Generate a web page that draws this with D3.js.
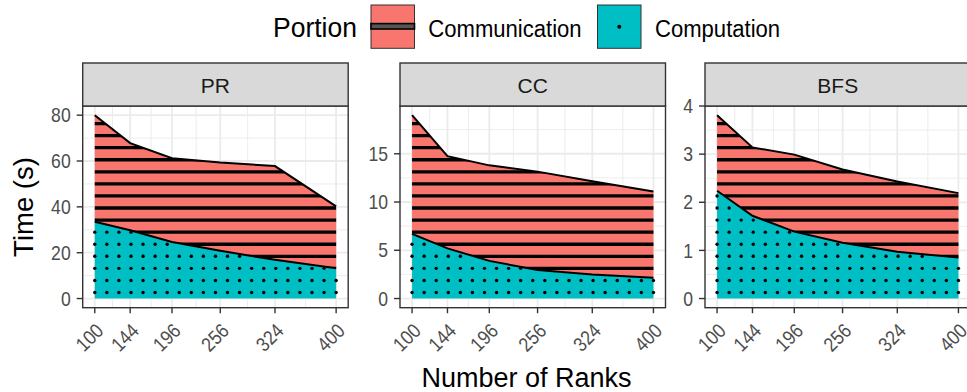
<!DOCTYPE html>
<html>
<head>
<meta charset="utf-8">
<script src="https://cdn.jsdelivr.net/npm/d3@7"></script>
<style>
  html, body { margin: 0; padding: 0; background: #fff; }
  svg { display: block; font-family: "Liberation Sans", Arial, Helvetica, sans-serif; }
</style>
</head>
<body>
<svg id="chart" width="967" height="392"></svg>
<script>
// ---- data ----
const ranks = [100, 144, 196, 256, 324, 400];
const xTicks = [100, 144, 196, 256, 324, 400];
const panels = ["PR", "CC", "BFS"];
const portions = ["Communication", "Computation"];

// seconds spent per portion, by number of ranks
const prComputation = [33.5, 29.8, 24.7, 20.8, 16.9, 13.2];
const prCommunication = [46.5, 38.0, 36.5, 38.5, 40.9, 27.0];
const ccComputation = [6.7, 5.2, 3.9, 2.95, 2.5, 2.15];
const ccCommunication = [12.3, 9.55, 9.9, 10.2, 9.65, 8.95];
const bfsComputation = [2.24, 1.72, 1.39, 1.16, 0.97, 0.85];
const bfsCommunication = [1.57, 1.42, 1.60, 1.52, 1.46, 1.34];

const prYTicks = [0, 20, 40, 60, 80];
const ccYTicks = [0, 5, 10, 15];
const bfsYTicks = [0, 1, 2, 3, 4];

// ---- layout ----
const colors = { Communication: "#F8766D", Computation: "#00BFC4" };
const panelLefts = [82.7, 400, 705];
const panelWidth = 265.5;
const stripTop = 63, stripBottom = 106, plotBottom = 307.7;
const tickFont = 20, tickSqueeze = 0.88;

const svg = d3.select("#chart");
const defs = svg.append("defs");

const series = [
  { name: panels[0], comp: prComputation, comm: prCommunication, ticks: prYTicks },
  { name: panels[1], comp: ccComputation, comm: ccCommunication, ticks: ccYTicks },
  { name: panels[2], comp: bfsComputation, comm: bfsCommunication, ticks: bfsYTicks }
];

series.forEach((s, i) => {
  const left = panelLefts[i], right = left + panelWidth;
  const rows = ranks.map((r, j) => ({ r, c: s.comp[j], t: s.comp[j] + s.comm[j] }));
  const maxT = d3.max(rows, d => d.t);

  const x = d3.scaleLinear().domain([100 - 15, 400 + 15]).range([left, right]);
  const y = d3.scaleLinear().domain([-maxT * 0.05, maxT * 1.05]).range([plotBottom, stripBottom]);

  const g = svg.append("g");

  // panel background and grid
  g.append("rect").attr("x", left).attr("y", stripBottom)
    .attr("width", panelWidth).attr("height", plotBottom - stripBottom).attr("fill", "#fff");

  const yt = s.ticks;
  const step = yt[1] - yt[0];
  const yMinor = yt.map(v => v - step / 2).concat([yt[yt.length - 1] + step / 2])
    .filter(v => y(v) <= plotBottom && y(v) >= stripBottom);
  const xMinor = d3.range(xTicks.length - 1).map(k => (xTicks[k] + xTicks[k + 1]) / 2);

  g.selectAll(".ymin").data(yMinor).join("line")
    .attr("x1", left).attr("x2", right).attr("y1", d => y(d)).attr("y2", d => y(d))
    .attr("stroke", "#EBEBEB").attr("stroke-width", 0.9);
  g.selectAll(".xmin").data(xMinor).join("line")
    .attr("x1", d => x(d)).attr("x2", d => x(d)).attr("y1", stripBottom).attr("y2", plotBottom)
    .attr("stroke", "#EBEBEB").attr("stroke-width", 0.9);
  g.selectAll(".ymaj").data(yt.filter(v => y(v) >= stripBottom)).join("line")
    .attr("x1", left).attr("x2", right).attr("y1", d => y(d)).attr("y2", d => y(d))
    .attr("stroke", "#EBEBEB").attr("stroke-width", 1.8);
  g.selectAll(".xmaj").data(xTicks).join("line")
    .attr("x1", d => x(d)).attr("x2", d => x(d)).attr("y1", stripBottom).attr("y2", plotBottom)
    .attr("stroke", "#EBEBEB").attr("stroke-width", 1.8);

  // stacked areas
  const compArea = d3.area().x(d => x(d.r)).y0(y(0)).y1(d => y(d.c));
  const commArea = d3.area().x(d => x(d.r)).y0(d => y(d.c)).y1(d => y(d.t));

  g.append("path").attr("d", compArea(rows)).attr("fill", colors.Computation);
  g.append("path").attr("d", commArea(rows)).attr("fill", colors.Communication);

  // pattern grid
  const spacing = (x(400) - x(100)) / 20;
  const rowYs = d3.range(0, 40).map(k => y(0) - spacing / 2 - k * spacing).filter(v => v > stripBottom);

  // stripes on communication, clipped to its area
  const clipId = "clip-comm-" + i;
  defs.append("clipPath").attr("id", clipId).append("path").attr("d", commArea(rows));
  g.append("g").attr("clip-path", `url(#${clipId})`)
    .selectAll("line").data(rowYs).join("line")
    .attr("x1", x(100) - 2).attr("x2", x(400) + 2)
    .attr("y1", d => d).attr("y2", d => d)
    .attr("stroke", "#000").attr("stroke-width", 3.3);

  // dots on computation
  const compTop = d3.scaleLinear().domain(ranks).range(s.comp);
  const cols = d3.range(0, 21).map(k => x(100) + k * spacing);
  const dots = [];
  cols.forEach(cx => {
    const topY = y(compTop(x.invert(cx)));
    rowYs.forEach(cy => { if (cy > topY + 1.5) dots.push([cx, cy]); });
  });
  g.append("g").selectAll("circle").data(dots).join("circle")
    .attr("cx", d => d[0]).attr("cy", d => d[1]).attr("r", 1.7).attr("fill", "#000");

  // outline lines
  const lineC = d3.line().x(d => x(d.r)).y(d => y(d.c));
  const lineT = d3.line().x(d => x(d.r)).y(d => y(d.t));
  g.append("path").attr("d", lineC(rows)).attr("fill", "none").attr("stroke", "#000").attr("stroke-width", 2);
  g.append("path").attr("d", lineT(rows)).attr("fill", "none").attr("stroke", "#000").attr("stroke-width", 2);

  // panel border
  g.append("rect").attr("x", left).attr("y", stripBottom)
    .attr("width", panelWidth).attr("height", plotBottom - stripBottom)
    .attr("fill", "none").attr("stroke", "#333333").attr("stroke-width", 1.4);

  // strip
  g.append("rect").attr("x", left).attr("y", stripTop)
    .attr("width", panelWidth).attr("height", stripBottom - stripTop)
    .attr("fill", "#D9D9D9").attr("stroke", "#333333").attr("stroke-width", 1.4);
  g.append("text").attr("x", left + panelWidth / 2).attr("y", 92.5)
    .attr("text-anchor", "middle").attr("font-size", 21).attr("fill", "#1A1A1A").text(s.name);

  // y axis
  const yAxis = g.append("g");
  const ytIn = yt.filter(v => y(v) >= stripBottom - 1);
  yAxis.selectAll("line").data(ytIn).join("line")
    .attr("x1", left - 6).attr("x2", left).attr("y1", d => y(d)).attr("y2", d => y(d))
    .attr("stroke", "#333333").attr("stroke-width", 1.4);
  yAxis.selectAll("text").data(ytIn).join("text")
    .attr("transform", d => `translate(${left - 12},${y(d) + 7.2}) scale(${tickSqueeze},1)`)
    .attr("text-anchor", "end").attr("font-size", tickFont).attr("fill", "#4D4D4D").text(d => d);

  // x axis
  const xAxis = g.append("g");
  xAxis.selectAll("line").data(xTicks).join("line")
    .attr("x1", d => x(d)).attr("x2", d => x(d)).attr("y1", plotBottom).attr("y2", plotBottom + 5.5)
    .attr("stroke", "#333333").attr("stroke-width", 1.4);
  xAxis.selectAll("text").data(xTicks).join("text")
    .attr("transform", d => `translate(${x(d) + 10},${332}) rotate(-45) scale(${tickSqueeze},1)`)
    .attr("text-anchor", "end").attr("font-size", tickFont).attr("fill", "#4D4D4D").text(d => d);
});

// axis titles
svg.append("text").attr("x", 526.5).attr("y", 387).attr("text-anchor", "middle")
  .attr("font-size", 27).attr("fill", "#000").text("Number of Ranks");
svg.append("text").attr("transform", "translate(33,207) rotate(-90)").attr("text-anchor", "middle")
  .attr("font-size", 27.5).attr("fill", "#000").text("Time (s)");

// legend
const legend = svg.append("g");
legend.append("text").attr("transform", "translate(273,36.7) scale(0.93,1)")
  .attr("font-size", 28.5).attr("fill", "#000").text("Portion");
const keyX = [371, 597.5];
const labelX = [428.3, 655];
portions.forEach((p, k) => {
  legend.append("rect").attr("x", keyX[k]).attr("y", 5).attr("width", 43.5).attr("height", 43.3)
    .attr("fill", colors[p]).attr("stroke", "#333333").attr("stroke-width", 1);
  if (p === "Communication") {
    legend.append("rect").attr("x", keyX[k]).attr("y", 23.6).attr("width", 43.5).attr("height", 5.4)
      .attr("fill", "#555").attr("stroke", "#000").attr("stroke-width", 1.6);
  } else {
    legend.append("circle").attr("cx", keyX[k] + 21.75).attr("cy", 26.8).attr("r", 2).attr("fill", "#000");
  }
  legend.append("text").attr("transform", `translate(${labelX[k]},36.8) scale(0.96,1)`)
    .attr("font-size", 23).attr("fill", "#000").text(p);
});
</script>
</body>
</html>
